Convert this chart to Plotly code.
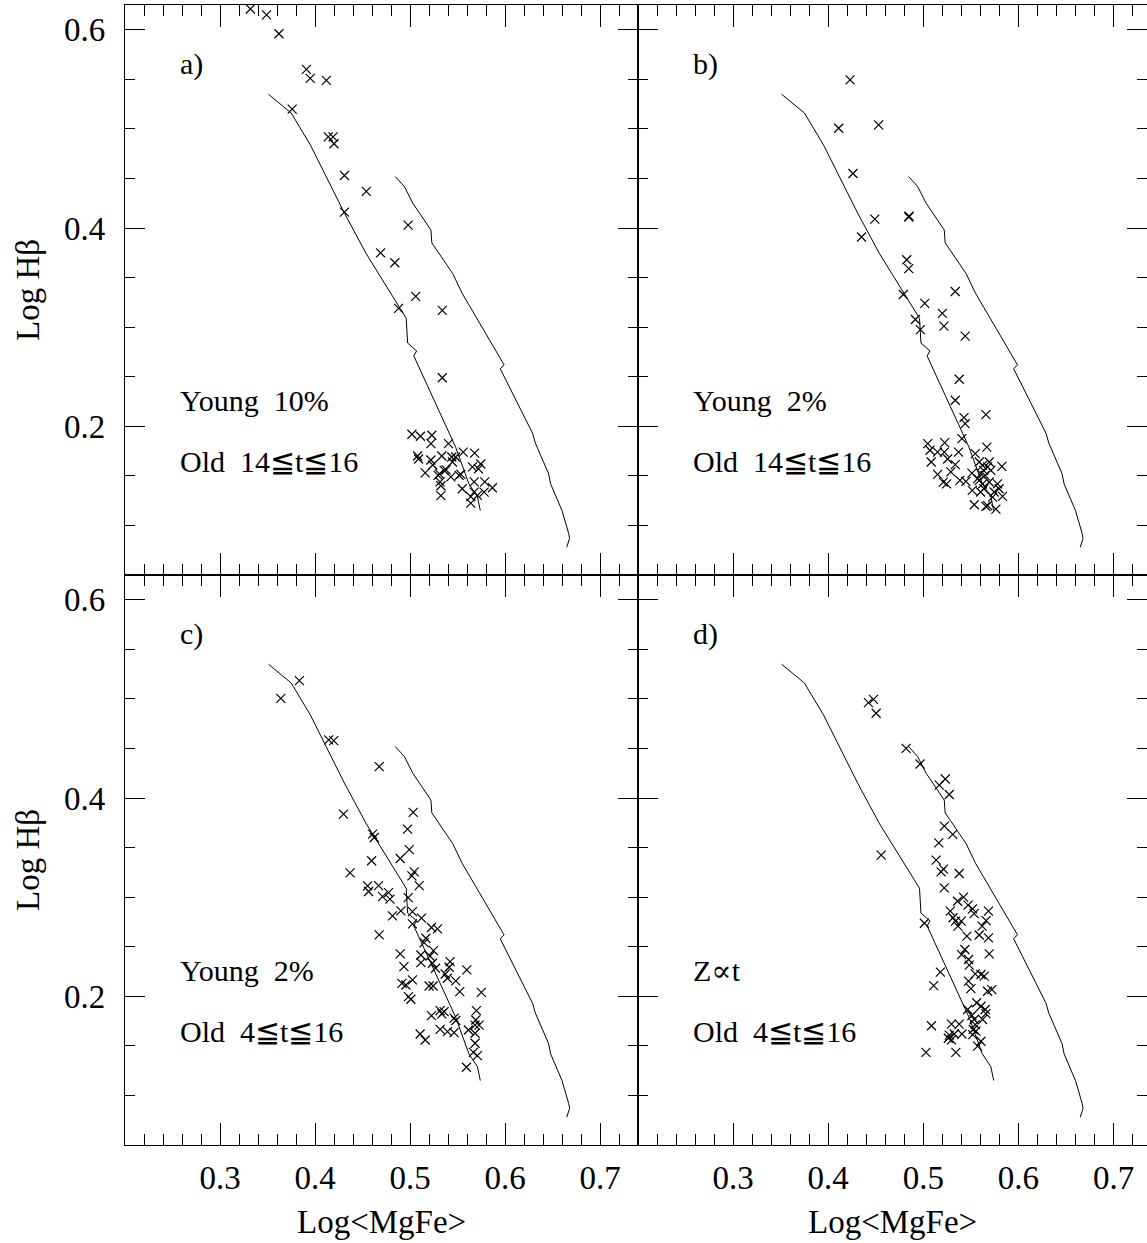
import plotly.graph_objects as go
from plotly.subplots import make_subplots

# model grids (same two curves drawn in every panel)
curva1_x = [0.351, 0.375, 0.395, 0.405, 0.431, 0.454, 0.475, 0.496, 0.4975, 0.507, 0.504, 0.548, 0.562, 0.571, 0.574]
curva1_y = [0.535, 0.516, 0.484, 0.465, 0.415, 0.374, 0.341, 0.309, 0.284, 0.276, 0.271, 0.179, 0.142, 0.129, 0.115]
curva2_x = [0.4844, 0.494, 0.503, 0.522, 0.523, 0.545, 0.555, 0.599, 0.595, 0.629, 0.632, 0.646, 0.648, 0.660, 0.667, 0.668, 0.665]
curva2_y = [0.452, 0.442, 0.425, 0.398, 0.385, 0.354, 0.334, 0.262, 0.258, 0.193, 0.183, 0.152, 0.142, 0.115, 0.092, 0.087, 0.078]

# a) Young 10%, Old 14<=t<=16
a_x = [0.332, 0.349, 0.362, 0.391, 0.395, 0.412, 0.376, 0.414, 0.419, 0.420, 0.431, 0.454, 0.431, 0.498,
       0.469, 0.484, 0.506, 0.488, 0.534, 0.534,
       0.502, 0.511, 0.523, 0.522, 0.5405, 0.508, 0.509, 0.522, 0.5335, 0.544, 0.556, 0.568, 0.524,
       0.516, 0.531, 0.538, 0.543, 0.5517, 0.5657, 0.5745, 0.572, 0.5317, 0.5325, 0.5675, 0.555,
       0.5787, 0.5867, 0.5675, 0.578, 0.564, 0.564, 0.5325, 0.548, 0.5447, 0.536, 0.5296, 0.571, 0.5535]
a_y = [0.621, 0.615, 0.596, 0.560, 0.551, 0.549, 0.520, 0.492, 0.492, 0.485, 0.453, 0.437, 0.416, 0.403,
       0.375, 0.365, 0.331, 0.319, 0.317, 0.249,
       0.192, 0.190, 0.191, 0.1825, 0.1825, 0.170, 0.167, 0.166, 0.170, 0.169, 0.174, 0.173, 0.161,
       0.153, 0.152, 0.156, 0.149, 0.1505, 0.159, 0.162, 0.157, 0.144, 0.140, 0.144, 0.137,
       0.144, 0.138, 0.1336, 0.1336, 0.129, 0.1225, 0.130, 0.169, 0.164, 0.1556, 0.1505, 0.1303, 0.1515]

# b) Young 2%, Old 14<=t<=16
b_x = [0.423, 0.411, 0.453, 0.426, 0.449, 0.4847, 0.485, 0.435, 0.4826, 0.4847, 0.479, 0.5336,
       0.5015, 0.520, 0.4917, 0.5217, 0.4969, 0.544, 0.5378, 0.5336, 0.5428, 0.544, 0.5658, 0.5406,
       0.5046, 0.5225, 0.507, 0.515, 0.522, 0.5083, 0.5256, 0.5336, 0.537, 0.529, 0.515, 0.521,
       0.5245, 0.5385, 0.5448, 0.5668, 0.5546,
       0.5588, 0.5623, 0.5676, 0.571, 0.5605, 0.565, 0.5511, 0.5826, 0.5588, 0.5623, 0.5693, 0.578,
       0.5515, 0.5602, 0.5637, 0.5745, 0.5797, 0.5833, 0.5536, 0.5676, 0.5658, 0.5763, 0.5728,
       0.5633, 0.5693, 0.5571]
b_y = [0.5495, 0.5007, 0.504, 0.455, 0.409, 0.411, 0.412, 0.391, 0.368, 0.359, 0.333, 0.336,
       0.324, 0.314, 0.3077, 0.301, 0.2976, 0.291, 0.2475, 0.2263, 0.2088, 0.2027, 0.2118, 0.1876,
       0.1826, 0.1836, 0.1758, 0.174, 0.174, 0.164, 0.167, 0.1613, 0.174, 0.154, 0.1515, 0.1437,
       0.142, 0.1455, 0.1444, 0.179, 0.1724,
       0.164, 0.1606, 0.159, 0.1556, 0.1522, 0.1505, 0.1528, 0.1596, 0.1455, 0.142, 0.1438, 0.142,
       0.1354, 0.1337, 0.137, 0.1337, 0.137, 0.1293, 0.1209, 0.120, 0.1192, 0.1165, 0.1286,
       0.1556, 0.164, 0.1472]

# c) Young 2%, Old 4<=t<=16
c_x = [0.3836, 0.364, 0.4144, 0.4197, 0.4676, 0.430, 0.5034, 0.4974, 0.4606, 0.4624, 0.4992, 0.4596,
       0.4897, 0.5044, 0.4369, 0.502, 0.5097, 0.4554, 0.4564, 0.4669, 0.4774, 0.4711, 0.4789, 0.4981,
       0.4904, 0.4816, 0.5026, 0.5121, 0.5026, 0.5226, 0.5289, 0.4676, 0.5167, 0.5149, 0.4897, 0.5115,
       0.521, 0.5247, 0.5115, 0.5236, 0.5422, 0.4936, 0.5268, 0.5412, 0.5598, 0.537, 0.5394, 0.5026,
       0.4915, 0.4957, 0.5482, 0.5201, 0.5243, 0.5524, 0.5751, 0.4984, 0.5009, 0.5317, 0.5359, 0.5226,
       0.5335, 0.5464, 0.5482, 0.5699, 0.5692, 0.5727, 0.5685, 0.5317, 0.5394, 0.5464, 0.5615, 0.5685,
       0.5107, 0.516, 0.5685, 0.5667, 0.5709, 0.5594]
c_y = [0.5185, 0.5006, 0.4586, 0.458, 0.4317, 0.3838, 0.3855, 0.3687, 0.3636, 0.3602, 0.348, 0.3367,
       0.339, 0.3256, 0.3245, 0.3215, 0.3117, 0.3114, 0.3057, 0.3117, 0.3046, 0.3006, 0.298, 0.2996,
       0.2862, 0.2812, 0.2855, 0.2788, 0.2731, 0.2694, 0.2681, 0.262, 0.2586, 0.2542, 0.2428, 0.2417,
       0.2407, 0.246, 0.234, 0.2333, 0.235, 0.2299, 0.2283, 0.2293, 0.2266, 0.2225, 0.2182, 0.2165,
       0.2131, 0.2114, 0.2155, 0.2104, 0.2104, 0.2047, 0.204, 0.1996, 0.197, 0.1855, 0.1845, 0.1805,
       0.1822, 0.178, 0.1756, 0.1855, 0.1761, 0.171, 0.171, 0.1667, 0.1643, 0.1633, 0.166, 0.1627,
       0.162, 0.1559, 0.1526, 0.1435, 0.1401, 0.1284]

# d) Z~t, Old 4<=t<=16
d_x = [0.4423, 0.4476, 0.4504, 0.4819, 0.4966, 0.5231, 0.5168, 0.5273, 0.4557, 0.5221, 0.5309, 0.5163,
       0.5135, 0.5212, 0.5187, 0.5378, 0.522, 0.536, 0.5423, 0.5471, 0.5517, 0.5534, 0.5685, 0.5284,
       0.5312, 0.5339, 0.5399, 0.5364, 0.566, 0.5618, 0.5011, 0.5588, 0.5458, 0.5685, 0.5437, 0.5403,
       0.5693, 0.5476, 0.5483, 0.5179, 0.5546, 0.5606, 0.5641, 0.5476, 0.550, 0.5109, 0.5676, 0.5721,
       0.5561, 0.5606, 0.5651, 0.5658, 0.5466, 0.5511, 0.5535, 0.5623, 0.5546, 0.5525, 0.5553, 0.5606,
       0.5571, 0.5519, 0.5086, 0.5296, 0.5377, 0.5273, 0.5325, 0.5406, 0.5296, 0.5263, 0.5028, 0.5342]
d_y = [0.4963, 0.4996, 0.4855, 0.4501, 0.4343, 0.4192, 0.4131, 0.4036, 0.3424, 0.3717, 0.3633, 0.3548,
       0.3374, 0.3283, 0.3255, 0.3239, 0.3094, 0.2959, 0.300, 0.2919, 0.2882, 0.2834, 0.2859, 0.2859,
       0.2792, 0.2758, 0.2758, 0.2708, 0.2764, 0.2708, 0.2737, 0.2618, 0.2607, 0.259, 0.2472, 0.2421,
       0.2428, 0.2371, 0.2314, 0.2244, 0.2227, 0.222, 0.2203, 0.2153, 0.2078, 0.2108, 0.2051, 0.2068,
       0.1935, 0.19, 0.1867, 0.1826, 0.1867, 0.1806, 0.1766, 0.1766, 0.1715, 0.1665, 0.1648, 0.1547,
       0.1497, 0.1613, 0.1703, 0.172, 0.172, 0.1609, 0.162, 0.162, 0.156, 0.1577, 0.1435, 0.1435]

paineis = [
    ("a)", "Young  10%", "Old  14≦t≦16", a_x, a_y),
    ("b)", "Young  2%", "Old  14≦t≦16", b_x, b_y),
    ("c)", "Young  2%", "Old  4≦t≦16", c_x, c_y),
    ("d)", "Z∝t", "Old  4≦t≦16", d_x, d_y),
]

fonte = "Liberation Serif, DejaVu Serif, serif"

fig = make_subplots(rows=2, cols=2, horizontal_spacing=0, vertical_spacing=0,
                    column_widths=[513, 509])

for i, (letra, txt1, txt2, px_, py_) in enumerate(paineis):
    row, col = i // 2 + 1, i % 2 + 1
    fig.add_trace(go.Scatter(x=curva1_x, y=curva1_y, mode="lines",
                             line=dict(color="black", width=1)), row=row, col=col)
    fig.add_trace(go.Scatter(x=curva2_x, y=curva2_y, mode="lines",
                             line=dict(color="black", width=1)), row=row, col=col)
    fig.add_trace(go.Scatter(x=px_, y=py_, mode="markers",
                             marker=dict(symbol="x-thin", size=9, color="black",
                                         line=dict(color="black", width=1.2))),
                  row=row, col=col)

    sufixo = "" if i == 0 else str(i + 1)
    for texto, yy, tam in [(letra, 0.897, 30), (txt1, 0.306, 30), (txt2, 0.199, 30)]:
        fig.add_annotation(text=texto, x=0.104, y=yy, xref="x%s domain" % sufixo,
                           yref="y%s domain" % sufixo, xanchor="left", yanchor="middle",
                           showarrow=False, font=dict(family=fonte, size=tam, color="black"))

    xr = [0.2, 0.74] if col == 1 else [0.2, 0.7352]
    fig.update_xaxes(range=xr, tickmode="array", tickvals=[0.3, 0.4, 0.5, 0.6, 0.7],
                     ticktext=["0.3", "0.4", "0.5", "0.6", "0.7"],
                     showticklabels=(row == 2), ticks="inside", ticklen=22, tickwidth=1,
                     tickcolor="black", showline=True, linecolor="black", linewidth=1.3,
                     mirror="allticks", showgrid=False, zeroline=False, automargin=False,
                     minor=dict(ticks="inside", ticklen=11, tickwidth=1, tickcolor="black",
                                tickmode="linear", tick0=0.2, dtick=0.02, showgrid=False),
                     ticklabelstandoff=3,
                     tickfont=dict(family=fonte, size=33, color="black"),
                     row=row, col=col)
    fig.update_yaxes(range=[0.05, 0.625], tickmode="array", tickvals=[0.2, 0.4, 0.6],
                     ticktext=["0.2", "0.4", "0.6"],
                     showticklabels=(col == 1), ticks="inside", ticklen=20, tickwidth=1,
                     tickcolor="black", showline=True, linecolor="black", linewidth=1.3,
                     mirror="allticks", showgrid=False, zeroline=False, automargin=False,
                     minor=dict(ticks="inside", ticklen=10, tickwidth=1, tickcolor="black",
                                tickmode="linear", tick0=0.05, dtick=0.05, showgrid=False),
                     ticklabelstandoff=12,
                     tickfont=dict(family=fonte, size=33, color="black"),
                     row=row, col=col)

# titulos dos eixos
for yy in [0.75, 0.25]:
    fig.add_annotation(text="Log Hβ", x=-0.095, y=yy, xref="paper", yref="paper",
                       textangle=-90, showarrow=False, xanchor="center", yanchor="middle",
                       font=dict(family=fonte, size=33, color="black"))
for xx in [0.251, 0.751]:
    fig.add_annotation(text="Log&lt;MgFe&gt;", x=xx, y=-0.0675, xref="paper", yref="paper",
                       showarrow=False, xanchor="center", yanchor="middle",
                       font=dict(family=fonte, size=33, color="black"))

fig.update_layout(width=1147, height=1243, showlegend=False,
                  margin=dict(l=125, r=0, t=5, b=98),
                  plot_bgcolor="white", paper_bgcolor="white")

# tira a margem padrao do body para a figura ocupar a janela toda
fig.write_html("out.html", config={"displayModeBar": False},
               post_script="document.body.style.margin='0';")
